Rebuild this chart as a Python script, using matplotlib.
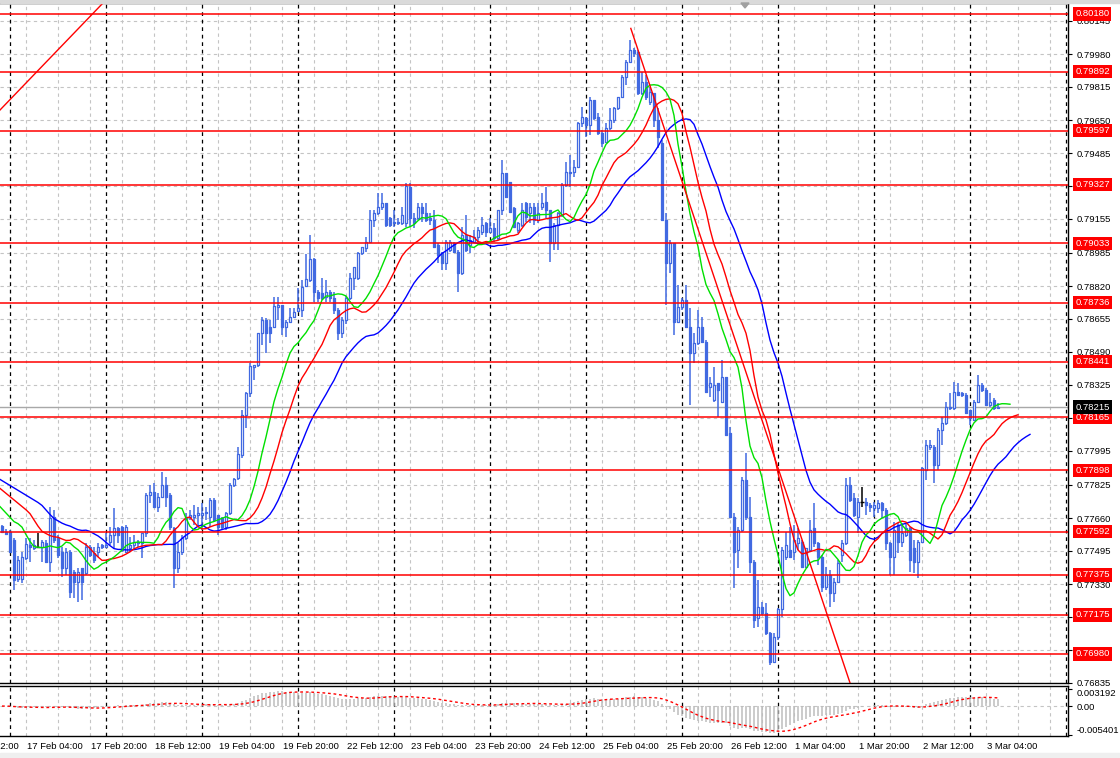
import numpy as np
import pandas as pd
import matplotlib
matplotlib.use('Agg')
import matplotlib.pyplot as plt
import matplotlib.transforms as mtransforms
from matplotlib.patches import Rectangle, Polygon
from matplotlib.collections import PatchCollection

plt.rcParams['font.family'] = ['Liberation Sans', 'DejaVu Sans']

# H1 bars, bar 0 = 17 Feb 00:00; first visible bar is 16 Feb 22:00
first_bar = -2

# OHLC in points (1 point = 0.00001), one row = 12 hours
opens = [77620, 77592,
    77592, 77550, 77353, 77353, 77458, 77525, 77508, 77517, 77517, 77533, 77442, 77667,
    77558, 77492, 77408, 77492, 77392, 77342, 77408, 77383, 77517, 77483, 77492, 77525,
    77517, 77542, 77575, 77608, 77617, 77492, 77508, 77525, 77533, 77533, 77583, 77775,
    77792, 77717, 77767, 77825, 77775, 77608, 77408, 77492, 77558, 77667, 77667, 77675,
    77675, 77683, 77667, 77750, 77675, 77658, 77617, 77683, 77825, 77858, 77975, 78175,
    78283, 78415, 78425, 78583, 78650, 78617, 78617, 78717, 78725, 78617, 78642, 78667,
    78697, 78700, 78820, 78850, 78953, 78792, 78783, 78767, 78792, 78758, 78700, 78583,
    78650, 78760, 78858, 78858, 78983, 79008, 79042, 79150, 79183, 79217, 79233, 79158,
    79133, 79133, 79133, 79133, 79317, 79158, 79158, 79217, 79183, 79158, 79150, 79025,
    78983, 78933, 79000, 79033, 78992, 78883, 79075, 79025, 79042, 79067, 79092, 79133,
    79092, 79108, 79058, 79200, 79383, 79342, 79208, 79100, 79125, 79233, 79183, 79217,
    79150, 79217, 79242, 79200, 79033, 79125, 79175, 79325, 79383, 79392, 79417, 79633,
    79658, 79625, 79750, 79667, 79583, 79542, 79608, 79650, 79708, 79767, 79867, 79942,
    80000, 79992, 79783, 79842, 79742, 79783, 79650, 79533, 79150, 78933, 79033, 78642,
    78717, 78750, 78617, 78483, 78533, 78617, 78542, 78317, 78250, 78333, 78242, 78367,
    78083, 77667, 77500, 77600, 77850, 77667, 77442, 77158, 77217, 77183, 77083, 76942,
    77067, 77203, 77467, 77500, 77492, 77533, 77542, 77417, 77500, 77608, 77533, 77467,
    77317, 77375, 77283, 77342, 77475, 77533, 77825, 77758, 77667, 77742, 77742, 77725,
    77708, 77708, 77733, 77700, 77533, 77467, 77625, 77542, 77575, 77608, 77508, 77442,
    77542, 77900, 78017, 78017, 77925, 78100, 78133, 78208, 78208, 78292, 78283, 78275,
    78200, 78150, 78242, 78325, 78300, 78225, 78250, 78208]
highs = [77625, 77605,
    77600, 77558, 77470, 77492, 77558, 77558, 77550, 77583, 77550, 77550, 77717, 77700,
    77575, 77517, 77508, 77500, 77400, 77408, 77408, 77533, 77525, 77517, 77533, 77530,
    77583, 77617, 77708, 77617, 77620, 77625, 77567, 77575, 77550, 77583, 77783, 77825,
    77833, 77783, 77892, 77867, 77783, 77617, 77533, 77575, 77683, 77700, 77725, 77717,
    77733, 77717, 77758, 77758, 77675, 77667, 77690, 77833, 77858, 78017, 78200, 78292,
    78433, 78425, 78583, 78667, 78658, 78650, 78767, 78767, 78725, 78650, 78708, 78708,
    78808, 78850, 78980, 79075, 78958, 78800, 78858, 78850, 78800, 78792, 78710, 78667,
    78770, 78883, 78917, 78992, 79017, 79067, 79200, 79200, 79283, 79283, 79233, 79167,
    79200, 79158, 79217, 79333, 79333, 79183, 79233, 79233, 79233, 79183, 79200, 79033,
    78992, 79050, 79050, 79042, 79000, 79117, 79175, 79075, 79100, 79117, 79167, 79142,
    79158, 79133, 79200, 79450, 79383, 79342, 79217, 79142, 79233, 79242, 79233, 79233,
    79233, 79283, 79317, 79200, 79133, 79192, 79333, 79442, 79475, 79450, 79642, 79717,
    79667, 79767, 79750, 79683, 79600, 79633, 79708, 79717, 79767, 79875, 79950, 80050,
    80008, 80000, 79892, 79875, 79817, 79783, 79708, 79550, 79183, 79050, 79033, 78825,
    78758, 78825, 78708, 78583, 78700, 78667, 78550, 78367, 78417, 78333, 78450, 78367,
    78117, 77683, 77617, 77867, 77983, 77767, 77450, 77350, 77242, 77233, 77092, 77083,
    77208, 77517, 77592, 77617, 77625, 77608, 77550, 77508, 77650, 77733, 77542, 77475,
    77417, 77400, 77358, 77450, 77550, 77858, 77867, 77783, 77758, 77817, 77758, 77733,
    77742, 77750, 77742, 77708, 77542, 77642, 77633, 77633, 77633, 77617, 77550, 77550,
    77917, 78050, 78050, 78025, 78108, 78167, 78242, 78283, 78342, 78333, 78292, 78283,
    78200, 78250, 78375, 78333, 78308, 78283, 78258, 78233]
lows = [77583, 77575,
    77490, 77300, 77340, 77333, 77450, 77442, 77500, 77508, 77442, 77442, 77392, 77533,
    77458, 77367, 77375, 77258, 77258, 77242, 77250, 77375, 77467, 77433, 77467, 77505,
    77515, 77525, 77508, 77533, 77492, 77483, 77492, 77500, 77517, 77458, 77567, 77733,
    77708, 77692, 77758, 77717, 77600, 77308, 77383, 77475, 77550, 77650, 77625, 77617,
    77600, 77650, 77617, 77642, 77575, 77600, 77600, 77675, 77817, 77850, 77958, 78108,
    78267, 78350, 78417, 78525, 78483, 78533, 78608, 78650, 78575, 78567, 78633, 78658,
    78692, 78667, 78817, 78842, 78742, 78742, 78750, 78742, 78740, 78680, 78550, 78560,
    78630, 78750, 78800, 78850, 78975, 78992, 79033, 79117, 79175, 79200, 79117, 79117,
    79117, 79125, 79125, 79117, 79117, 79108, 79150, 79142, 79142, 79125, 79008, 78933,
    78900, 78900, 78992, 78983, 78792, 78875, 78992, 78983, 79033, 79042, 79075, 79067,
    79083, 79042, 79050, 79175, 79258, 79183, 79117, 79083, 79117, 79142, 79133, 79125,
    79133, 79200, 79158, 78942, 79000, 79000, 79167, 79317, 79317, 79367, 79408, 79617,
    79567, 79575, 79650, 79575, 79517, 79533, 79600, 79633, 79700, 79758, 79825, 79933,
    79967, 79775, 79775, 79750, 79725, 79617, 79508, 79150, 78725, 78883, 78575, 78642,
    78700, 78617, 78225, 78433, 78525, 78533, 78283, 78267, 78242, 78167, 78233, 78075,
    77667, 77308, 77408, 77592, 77650, 77383, 77108, 77117, 77175, 77075, 76925, 76933,
    77050, 77167, 77450, 77458, 77450, 77500, 77417, 77408, 77492, 77517, 77425, 77292,
    77300, 77217, 77242, 77333, 77442, 77525, 77742, 77667, 77583, 77717, 77675, 77692,
    77667, 77683, 77658, 77500, 77375, 77375, 77483, 77517, 77567, 77392, 77383, 77358,
    77533, 77850, 78000, 77833, 77900, 78025, 78125, 78200, 78200, 78275, 78267, 78183,
    78125, 78150, 78233, 78292, 78225, 78217, 78200, 78208]
closes = [77592, 77580,
    77492, 77350, 77450, 77467, 77528, 77513, 77525, 77517, 77542, 77442, 77658, 77550,
    77475, 77408, 77492, 77292, 77342, 77392, 77342, 77517, 77475, 77450, 77517, 77513,
    77525, 77575, 77608, 77575, 77500, 77617, 77525, 77542, 77542, 77583, 77775, 77792,
    77717, 77767, 77825, 77767, 77617, 77408, 77492, 77558, 77667, 77675, 77675, 77683,
    77683, 77692, 77750, 77650, 77617, 77613, 77683, 77825, 77853, 77980, 78175, 78283,
    78420, 78425, 78583, 78650, 78583, 78583, 78720, 78725, 78617, 78642, 78667, 78692,
    78712, 78817, 78853, 78953, 78792, 78758, 78758, 78792, 78758, 78700, 78583, 78650,
    78760, 78858, 78917, 78983, 79013, 79042, 79150, 79183, 79217, 79233, 79125, 79125,
    79142, 79142, 79175, 79320, 79158, 79133, 79217, 79183, 79150, 79150, 79017, 78975,
    78933, 79042, 79042, 78992, 78883, 79075, 79000, 79050, 79067, 79100, 79125, 79092,
    79108, 79058, 79200, 79383, 79267, 79192, 79117, 79133, 79200, 79167, 79217, 79150,
    79183, 79233, 79200, 79033, 79125, 79183, 79325, 79392, 79392, 79417, 79633, 79667,
    79625, 79750, 79658, 79583, 79533, 79608, 79650, 79708, 79767, 79867, 79942, 80000,
    79983, 79783, 79842, 79767, 79792, 79650, 79567, 79150, 78933, 79033, 78642, 78717,
    78750, 78617, 78483, 78533, 78617, 78542, 78292, 78333, 78325, 78300, 78367, 78075,
    77667, 77492, 77600, 77850, 77667, 77442, 77150, 77217, 77183, 77083, 76942, 77067,
    77203, 77500, 77525, 77467, 77550, 77558, 77417, 77508, 77600, 77533, 77467, 77317,
    77375, 77283, 77342, 77433, 77533, 77825, 77750, 77675, 77742, 77742, 77725, 77717,
    77725, 77733, 77700, 77533, 77467, 77600, 77542, 77583, 77608, 77450, 77442, 77542,
    77908, 78025, 78025, 77925, 78100, 78133, 78217, 78217, 78292, 78275, 78275, 78183,
    78158, 78242, 78325, 78300, 78225, 78242, 78208, 78215]

# horizontal levels drawn on the chart
level_prices = [0.80180, 0.79892, 0.79597, 0.79327, 0.79033, 0.78736, 0.78441,
                0.78165, 0.77898, 0.77592, 0.77375, 0.77175, 0.76980]
bid_price = 0.78215
price_ticks = [0.80145, 0.79980, 0.79815, 0.79650, 0.79485, 0.79320, 0.79155,
               0.78985, 0.78820, 0.78655, 0.78490, 0.78325, 0.78160, 0.77995,
               0.77825, 0.77660, 0.77495, 0.77330, 0.77165, 0.77000, 0.76835]
macd_ticks = [0.003192, 0.0, -0.005401]
macd_tick_labels = ['0.003192', '0.00', '-0.005401']

time_labels = ['16 Feb 12:00', '17 Feb 04:00', '17 Feb 20:00', '18 Feb 12:00',
               '19 Feb 04:00', '19 Feb 20:00', '22 Feb 12:00', '23 Feb 04:00',
               '23 Feb 20:00', '24 Feb 12:00', '25 Feb 04:00', '25 Feb 20:00',
               '26 Feb 12:00', '1 Mar 04:00', '1 Mar 20:00', '2 Mar 12:00', '3 Mar 04:00']
first_label_bar = -12
label_step = 16
n_days = 12   # 17 Feb ... 4 Mar (trading days)

# trend lines: (bar, price) anchor pairs
trend_lines = [((-2.5, 0.79700), (23.25, 0.80235)),
               ((155.2, 0.80108), (207.5, 0.76985))]

# Alligator (SMMA of median price): period, shift, start value, value at left edge
lips_cfg = (5, 3, 0.77642, 0.77717)
teeth_cfg = (8, 5, 0.77717, 0.77808)
jaw_cfg = (13, 8, 0.77750, 0.77853)

o = np.array(opens) / 1e5
h = np.array(highs) / 1e5
l = np.array(lows) / 1e5
c = np.array(closes) / 1e5
x = np.arange(len(o)) + first_bar

blue = '#4169E1'
grid_gray = '#C4C4C4'

W, H = 1120, 758
def box(left, top, right, bottom):
    return [left / W, 1 - bottom / H, (right - left) / W, (bottom - top) / H]

fig = plt.figure(figsize=(11.2, 7.58), dpi=100)
ax = fig.add_axes(box(0, 3, 1068, 683))
axm = fig.add_axes(box(0, 686, 1068, 736), sharex=ax)

xmin, xmax = -2.5, 264.5
ax.set_xlim(xmin, xmax)
ax.set_ylim(0.76835, 0.80235)

# grid
for a in (ax, axm):
    for gx in range(-4, 265, 8):
        a.axvline(gx, color=grid_gray, lw=0.8, ls=(0, (3, 3)), zorder=0.5)
    for d in range(n_days):
        a.axvline(24 * d, color='black', lw=0.9, ls=(0, (3, 3)), zorder=0.6)
for p in price_ticks:
    ax.axhline(p, color=grid_gray, lw=0.8, ls=(0, (3, 3)), zorder=0.5)

# candles
doji = c == o
ax.vlines(x[~doji], l[~doji], h[~doji], color=blue, lw=1.1, zorder=2)
ax.vlines(x[doji], l[doji], h[doji], color='black', lw=1.1, zorder=2)
ax.hlines(o[doji], x[doji] - 0.4, x[doji] + 0.4, color='black', lw=1, zorder=3)
bw = 0.6
rects, fcs = [], []
for xi, oi, ci in zip(x[~doji], o[~doji], c[~doji]):
    rects.append(Rectangle((xi - bw / 2, min(oi, ci)), bw, abs(ci - oi)))
    fcs.append('white' if ci > oi else blue)
ax.add_collection(PatchCollection(rects, facecolors=fcs, edgecolors=blue,
                                  linewidths=0.9, zorder=3))

# Alligator
median = (h + l) / 2
def smma(values, n, start):
    out = np.empty(len(values))
    s = start
    for k, v in enumerate(values):
        if k > 0:
            s = (s * (n - 1) + v) / n
        out[k] = s
    return out

for (n, shift, start, edge), col in [(jaw_cfg, '#0000FF'), (teeth_cfg, '#FF0000'),
                                      (lips_cfg, '#00E000')]:
    line = smma(median, n, start)
    ax.plot(np.r_[xmin, x + shift], np.r_[edge, line], color=col, lw=1, zorder=4)

# levels
for p in level_prices:
    ax.axhline(p, color='#FF0000', lw=1.1, zorder=5)
ax.axhline(bid_price, color='#A8A8A8', lw=1, zorder=1)

# trend lines (rays)
for (x0, y0), (x1, y1) in trend_lines:
    slope = (y1 - y0) / (x1 - x0)
    xs = np.array([x0, x1 + 20])
    ax.plot(xs, y0 + slope * (xs - x0), color='#FF0000', lw=1, zorder=5)

# axes look
for a in (ax, axm):
    a.spines['left'].set_visible(False)
    for s in ('top', 'right', 'bottom'):
        a.spines[s].set_linewidth(1)
    a.tick_params(axis='x', bottom=False, labelbottom=False)
    a.yaxis.tick_right()
    a.tick_params(axis='y', right=True, left=False, length=3, width=0.8,
                  pad=3, labelsize=6.8, colors='black')
    a.set_facecolor('white')

ax.set_yticks(price_ticks)
ax.set_yticklabels(['%.5f' % p for p in price_ticks])

# price tags on the right scale
tr = mtransforms.blended_transform_factory(ax.transAxes, ax.transData)
for p in level_prices:
    ax.text(1.0068, p, '%.5f' % p, transform=tr, ha='left', va='center',
            fontsize=6.8, color='white', zorder=10, clip_on=False,
            bbox=dict(boxstyle='square,pad=0.22', fc='#FF0000', ec='none'))
ax.text(1.0068, bid_price, '%.5f' % bid_price, transform=tr, ha='left',
        va='center', fontsize=6.8, color='white', zorder=10, clip_on=False,
        bbox=dict(boxstyle='square,pad=0.22', fc='black', ec='none'))

# MACD 12/26/9
cs = pd.Series(c)
macd = cs.ewm(span=12, adjust=False).mean() - cs.ewm(span=26, adjust=False).mean()
signal = macd.rolling(9, min_periods=1).mean()
axm.vlines(x, 0, macd.values, color='#BDBDBD', lw=1.1, zorder=2)
axm.plot(x, signal.values, color='#FF0000', lw=1, ls=(0, (2, 2)), zorder=3)
axm.axhline(0, color=grid_gray, lw=0.8, ls=(0, (3, 3)), zorder=0.5)
axm.set_ylim(-0.00559, 0.00375)
axm.set_yticks(macd_ticks)
axm.set_yticklabels(macd_tick_labels)
axm.get_yticklabels()[0].set_va('top')
axm.get_yticklabels()[2].set_va('bottom')

# time labels
trx = mtransforms.blended_transform_factory(axm.transData, axm.transAxes)
for k, lab in enumerate(time_labels):
    axm.annotate(lab, xy=(first_label_bar + label_step * k, 0), xycoords=trx,
                 xytext=(1, -4), textcoords='offset points', ha='left', va='top',
                 fontsize=6.8, annotation_clip=False)

# window decorations
fig.patches.append(Rectangle((0, 1 - 3 / H), 1, 3 / H, transform=fig.transFigure,
                             color='#DADADA', zorder=0))
fig.patches.append(Rectangle((0, 0), 1, 5 / H, transform=fig.transFigure,
                             color='#EFEFEF', zorder=0))
fig.patches.append(Polygon([[741 / W, 1 - 3 / H], [749 / W, 1 - 3 / H], [745 / W, 1 - 8 / H]],
                           closed=True, transform=fig.transFigure, color='#A0A0A0'))

fig.savefig('out.png', dpi=100)
